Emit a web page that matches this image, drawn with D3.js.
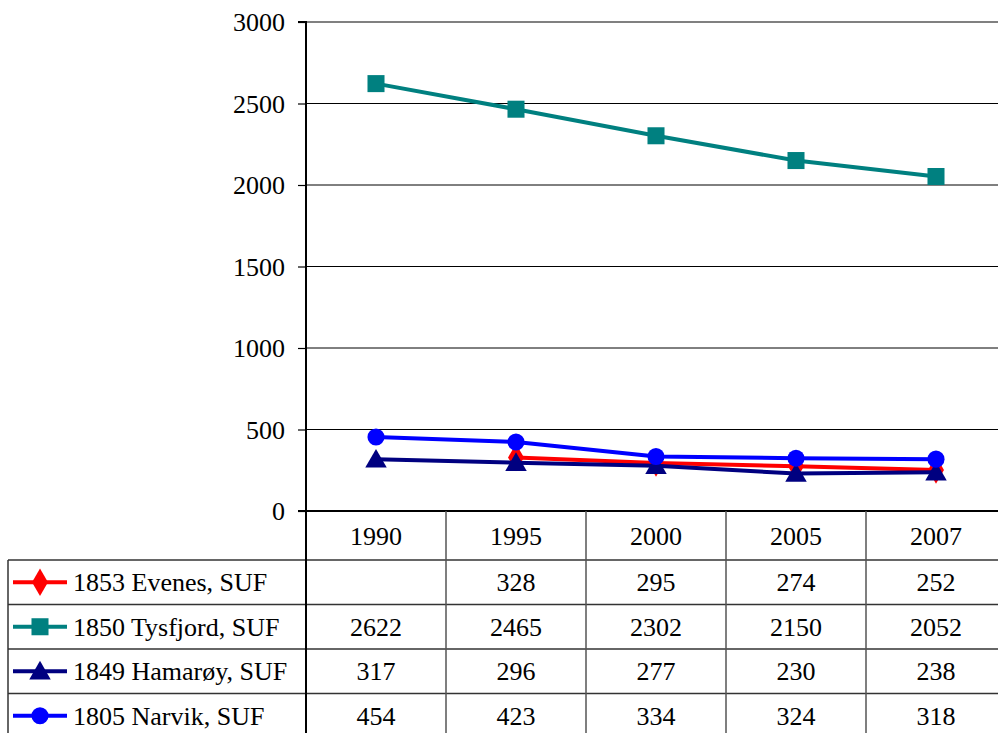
<!DOCTYPE html>
<html><head><meta charset="utf-8">
<script src="https://cdn.jsdelivr.net/npm/d3@7"></script>
</head><body style="margin:0"><svg id="c" width="998" height="733"><style>text{font-family:'Liberation Serif', serif !important;}</style></svg>
<script>
const categories = ["1990","1995","2000","2005","2007"];
const seriesNames = ["1853 Evenes, SUF","1850 Tysfjord, SUF","1849 Hamarøy, SUF","1805 Narvik, SUF"];
const evenes = [null,328,295,274,252];
const tysfjord = [2622,2465,2302,2150,2052];
const hamaroy = [317,296,277,230,238];
const narvik = [454,423,334,324,318];
const yTicks = [0,500,1000,1500,2000,2500,3000];
const colors = ["#FF0000","#008080","#000080","#0000FF"];
const shapes = [d3.symbolDiamond, d3.symbolSquare, d3.symbolTriangle, d3.symbolCircle];
const symSizes = [220, 290, 200, 230];
const series = [evenes, tysfjord, hamaroy, narvik];

const FONT = "'Liberation Serif', monospace";
const svg = d3.select("#c");
const L = 306, R = 1006, T = 22, B = 511;
const x = d3.scaleBand().domain(categories).range([L, R]);
const y = d3.scaleLinear().domain([0,3000]).range([B, T]);
const fs = 26;

svg.append("g").selectAll("line").data(yTicks.filter(v=>v>0)).join("line")
  .attr("x1", L).attr("x2", 998).attr("y1", d=>y(d)).attr("y2", d=>y(d))
  .attr("stroke", d=> d===3000 ? "#808080" : "#000").attr("stroke-width", d=> d===3000 ? 2 : 1);

// y axis (ticks via d3 axis, labels drawn as plain texts)
const yAxis = d3.axisLeft(y).tickValues(yTicks).tickSize(8).tickFormat("");
const ga = svg.append("g").attr("transform", `translate(${L},0)`).call(yAxis);
ga.select(".domain").attr("stroke","#000").attr("stroke-width",2).attr("d", `M-8,${T}H0V${B}`);
ga.selectAll(".tick line").attr("stroke","#000").attr("stroke-width",1.2);
ga.selectAll(".tick text").remove();
svg.selectAll("text.yt").data(yTicks).join("text").attr("class","yt")
  .attr("x", L-21).attr("y", d=>y(d)+9).attr("text-anchor","end")
  .attr("font-size", fs).style("font-family", FONT).text(d=>d);

const rowH = 44.5;
const hdrTop = B, hdrBot = 560;
const rowTops = seriesNames.map((s,i)=> hdrBot + i*rowH);
const tg = svg.append("g");
tg.append("line").attr("x1",L-8).attr("x2",998).attr("y1",B).attr("y2",B).attr("stroke","#000").attr("stroke-width",2);
[hdrBot, ...rowTops.slice(1)].forEach(yy=>{
  tg.append("line").attr("x1",8).attr("x2",998).attr("y1",yy).attr("y2",yy).attr("stroke","#333").attr("stroke-width",1.5);
});
categories.forEach((c,i)=>{
  const xx = x(c);
  tg.append("line").attr("x1",xx).attr("x2",xx).attr("y1", i===0 ? T : B).attr("y2",733)
    .attr("stroke", i===0 ? "#000" : "#555").attr("stroke-width", i===0 ? 2 : 1.5);
});
tg.append("line").attr("x1",8).attr("x2",8).attr("y1",hdrBot).attr("y2",733).attr("stroke","#333").attr("stroke-width",1.5);

tg.selectAll("text.hdr").data(categories).join("text").attr("class","hdr")
  .attr("x", d=>x(d)+x.bandwidth()/2).attr("y", (hdrTop+hdrBot)/2 + 9)
  .attr("text-anchor","middle").attr("font-size",fs).style("font-family", FONT).text(d=>d);

seriesNames.forEach((name,i)=>{
  const cy = rowTops[i] + rowH/2;
  const vals = series[i];
  tg.selectAll(null).data(categories).join("text")
    .attr("x", d=>x(d)+x.bandwidth()/2).attr("y", cy + 9)
    .attr("text-anchor","middle").attr("font-size",fs).style("font-family", FONT)
    .text((d,j)=> vals[j]==null ? "" : vals[j]);
  tg.append("line").attr("x1",13).attr("x2",67).attr("y1",cy).attr("y2",cy)
    .attr("stroke",colors[i]).attr("stroke-width",4);
  tg.append("path").attr("d", d3.symbol().type(shapes[i]).size(symSizes[i])())
    .attr("transform",`translate(40,${cy + (i===2?2:0)})`).attr("fill",colors[i]);
  tg.append("text").attr("x",73).attr("y",cy + 9).attr("font-size",fs)
    .style("font-family", FONT).text(name);
});

const line = d3.line().defined(d=>d.v!=null).x(d=>x(d.c)+x.bandwidth()/2).y(d=>y(d.v));
series.forEach((vals,i)=>{
  const data = categories.map((c,j)=>({c, v: vals[j]}));
  svg.append("path").datum(data).attr("d", line).attr("fill","none")
    .attr("stroke",colors[i]).attr("stroke-width",4).attr("stroke-linejoin","round");
  svg.append("g").selectAll("path").data(data.filter(d=>d.v!=null)).join("path")
    .attr("d", d3.symbol().type(shapes[i]).size(symSizes[i])())
    .attr("transform", d=>`translate(${x(d.c)+x.bandwidth()/2},${y(d.v) + (i===2?2:0)})`)
    .attr("fill", colors[i]);
});
</script></body></html>
